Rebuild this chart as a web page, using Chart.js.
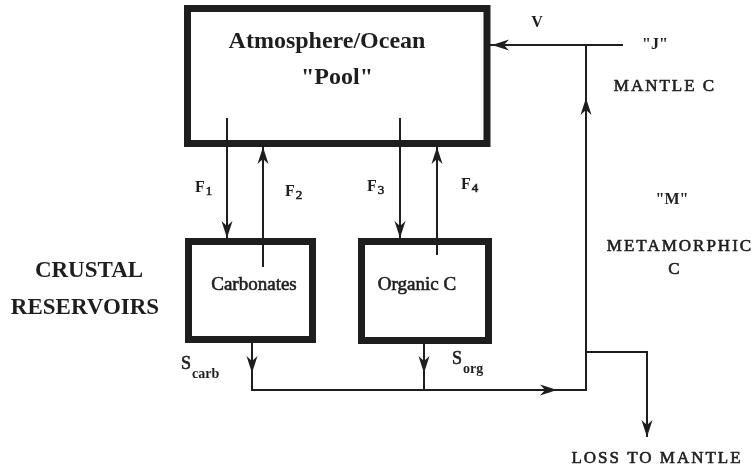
<!DOCTYPE html>
<html>
<head>
<meta charset="utf-8">
<script src="https://cdn.jsdelivr.net/npm/chart.js@4"></script>
<style>
  html, body { margin: 0; padding: 0; background: #fff; }
  canvas { display: block; }
</style>
</head>
<body>
<canvas id="cycle" width="753" height="473"></canvas>
<script>
// Carbon cycle box diagram, drawn on a plain 753 x 473 data grid (y grows downward)

// Reservoir boxes as outlines [x, y]; first edge repeated so every corner gets a miter join
const poolBox = [[187.5, 8.5], [487, 8.5], [487, 143.5], [187.5, 143.5], [187.5, 8.5], [487, 8.5]];
const carbBox = [[188.5, 241.5], [312.5, 241.5], [312.5, 339.5], [188.5, 339.5], [188.5, 241.5], [312.5, 241.5]];
const orgBox = [[361.5, 241.5], [488.5, 241.5], [488.5, 340.5], [361.5, 340.5], [361.5, 241.5], [488.5, 241.5]];

// Flux paths
const fluxF1 = [[227, 118], [227, 238]];
const fluxF2 = [[263, 267], [263, 147]];
const fluxF3 = [[400, 118], [400, 238]];
const fluxF4 = [[437, 255], [437, 147]];
const sinkPath = [[252, 343], [252, 390], [586, 390], [586, 45]];
const sorgPath = [[424, 344], [424, 390]];
const ventPath = [[623, 45], [490, 45]];
const lossPath = [[586, 352], [647, 352], [647, 437]];

// Arrow tips and pointing direction (degrees, 0 = up)
const arrowTips = [[227, 238], [263, 147], [400, 238], [437, 147], [252, 373],
                   [424, 373], [557, 390], [586, 98], [492, 45], [647, 437]];
const arrowDirs = [180, 0, 180, 0, 180, 180, 90, 0, 270, 180];

// Labels: text, x, y
const labels = [
  ['Atmosphere/Ocean', 327, 42, 'title'],
  ['"Pool"', 337, 78, 'title'],
  ['V', 537, 23, 'small'],
  ['"J"', 655, 45, 'small'],
  ['MANTLE C', 665, 87, 'caps'],
  ['"M"', 672, 200, 'small'],
  ['METAMORPHIC', 680, 247, 'caps'],
  ['C', 675, 270, 'caps'],
  ['LOSS TO MANTLE', 657, 459, 'caps'],
  ['CRUSTAL', 89, 271, 'big'],
  ['RESERVOIRS', 85, 308, 'big'],
  ['Carbonates', 254, 285, 'box'],
  ['Organic C', 417, 285, 'box']
];
// Subscripted labels: main, sub, left x, y
const subLabels = [
  ['F', '1', 195, 188],
  ['F', '2', 285, 192],
  ['F', '3', 367, 187],
  ['F', '4', 461, 185],
  ['S', 'carb', 181, 364],
  ['S', 'org', 452, 359]
];

const INK = '#1e1e1e';
const SERIF = '"Liberation Serif", "DejaVu Serif", serif';

const fonts = {
  title: 'bold 24px ' + SERIF,
  small: 'bold 16px ' + SERIF,
  caps: '17px ' + SERIF,
  big: 'bold 23px ' + SERIF,
  box: '19px ' + SERIF
};

function pts(arr) {
  return arr.map(([x, y]) => ({ x: x, y: y }));
}

// barbed arrow head, tip at canvas centre, pointing up
function makeArrowHead() {
  const c = document.createElement('canvas');
  c.width = 14;
  c.height = 34;
  const g = c.getContext('2d');
  g.fillStyle = INK;
  g.beginPath();
  g.moveTo(7, 17);
  g.lineTo(12.5, 34);
  g.lineTo(7, 29);
  g.lineTo(1.5, 34);
  g.closePath();
  g.fill();
  return c;
}

function lineSet(arr, width) {
  return {
    data: pts(arr),
    showLine: true,
    borderColor: INK,
    borderWidth: width,
    borderJoinStyle: 'miter',
    borderCapStyle: 'butt',
    pointRadius: 0,
    fill: false
  };
}

const textPlugin = {
  id: 'diagramText',
  afterDatasetsDraw(chart) {
    const ctx = chart.ctx;
    const sx = chart.scales.x;
    const sy = chart.scales.y;
    ctx.save();
    ctx.fillStyle = INK;
    ctx.strokeStyle = INK;
    ctx.lineWidth = 0.6;
    ctx.textBaseline = 'middle';
    labels.forEach(([text, x, y, kind]) => {
      const px = sx.getPixelForValue(x);
      const py = sy.getPixelForValue(y);
      ctx.font = fonts[kind];
      ctx.letterSpacing = kind === 'caps' ? '2px' : '0px';
      ctx.textAlign = 'center';
      ctx.fillText(text, px, py);
      // scanned original is heavier than plain regular weight
      if (kind === 'caps' || kind === 'box') ctx.strokeText(text, px, py);
    });
    ctx.letterSpacing = '0px';
    subLabels.forEach(([main, sub, x, y]) => {
      const px = sx.getPixelForValue(x);
      const py = sy.getPixelForValue(y);
      ctx.textAlign = 'left';
      ctx.font = main === 'F' ? 'bold 16px ' + SERIF : '18px ' + SERIF;
      ctx.fillText(main, px, py);
      if (main === 'S') ctx.strokeText(main, px, py);
      const w = ctx.measureText(main).width;
      ctx.font = main === 'F' ? '13px ' + SERIF : 'bold 14px ' + SERIF;
      ctx.fillText(sub, px + w + 1, py + (main === 'F' ? 4 : 10));
      if (main === 'F') ctx.strokeText(sub, px + w + 1, py + 4);
    });
    ctx.restore();
  }
};

const arrowHead = makeArrowHead();

new Chart(document.getElementById('cycle'), {
  type: 'scatter',
  data: {
    datasets: [
      lineSet(poolBox, 7),
      lineSet(carbBox, 7),
      lineSet(orgBox, 7),
      lineSet(fluxF1, 2),
      lineSet(fluxF2, 2),
      lineSet(fluxF3, 2),
      lineSet(fluxF4, 2),
      lineSet(sinkPath, 2),
      lineSet(sorgPath, 2),
      lineSet(ventPath, 2),
      lineSet(lossPath, 2),
      {
        data: pts(arrowTips),
        showLine: false,
        pointStyle: arrowHead,
        rotation: arrowDirs,
        pointRadius: 7
      }
    ]
  },
  options: {
    responsive: false,
    animation: false,
    events: [],
    layout: { padding: 0, autoPadding: false },
    scales: {
      x: { type: 'linear', min: 0, max: 753, display: false },
      y: { type: 'linear', min: 0, max: 473, reverse: true, display: false }
    },
    plugins: {
      legend: { display: false },
      tooltip: { enabled: false }
    }
  },
  plugins: [textPlugin]
});
</script>
</body>
</html>
